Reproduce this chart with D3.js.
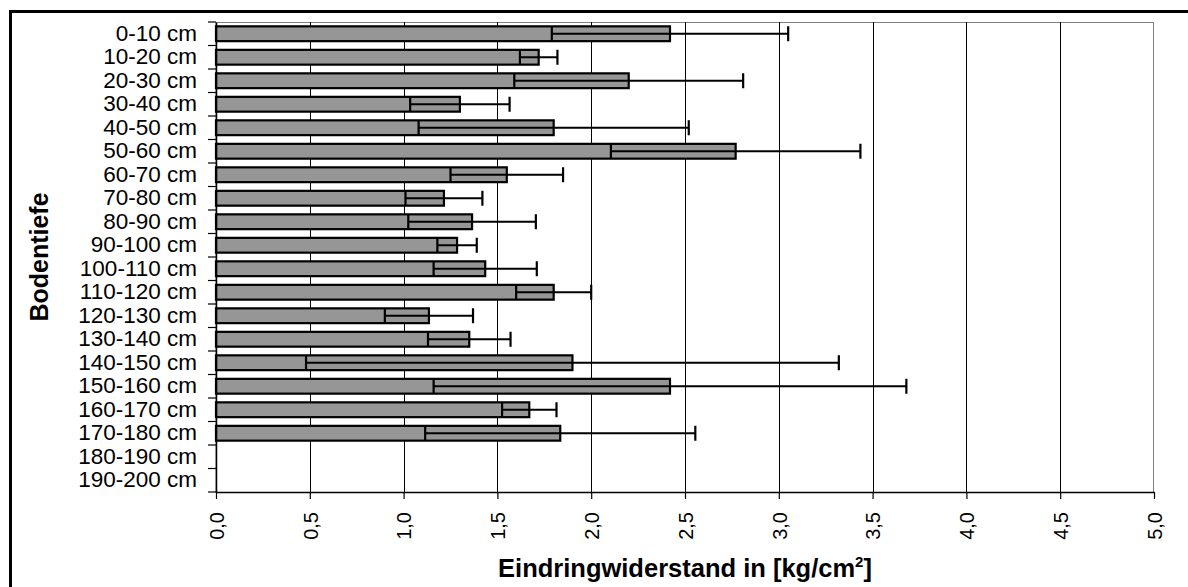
<!DOCTYPE html>
<html>
<head>
<meta charset="utf-8">
<script src="https://cdn.jsdelivr.net/npm/d3@7"></script>
<style>
  body { margin: 0; background: #fff; }
  svg { display: block; font-family: Arial, "Liberation Sans", sans-serif; }
</style>
</head>
<body>
<div id="chart"></div>
<script>
// Bodentiefe classes and penetration resistance (mean, standard deviation)
const categories = ["0-10 cm", "10-20 cm", "20-30 cm", "30-40 cm", "40-50 cm",
  "50-60 cm", "60-70 cm", "70-80 cm", "80-90 cm", "90-100 cm",
  "100-110 cm", "110-120 cm", "120-130 cm", "130-140 cm", "140-150 cm",
  "150-160 cm", "160-170 cm", "170-180 cm", "180-190 cm", "190-200 cm"];
const means = [2.42, 1.72, 2.20, 1.30, 1.80, 2.77, 1.55, 1.215, 1.365, 1.285,
  1.435, 1.80, 1.135, 1.35, 1.90, 2.42, 1.67, 1.835, null, null];
const sds = [0.63, 0.10, 0.61, 0.265, 0.72, 0.665, 0.30, 0.205, 0.34, 0.105,
  0.275, 0.20, 0.235, 0.22, 1.42, 1.26, 0.145, 0.72, null, null];
const xTicks = [0, 0.5, 1, 1.5, 2, 2.5, 3, 3.5, 4, 4.5, 5];

const W = 1188, H = 587;
const plot = {left: 216, right: 1154, top: 22, bottom: 492};

const data = categories.map((c, i) => ({cat: c, mean: means[i], sd: sds[i]}));

const de = d3.formatLocale({decimal: ",", thousands: ".", grouping: [3], currency: ["", " €"]});
const fmt = de.format(".1f");

const svg = d3.select("#chart").append("svg")
    .attr("width", W)
    .attr("height", H);

svg.append("rect").attr("width", W).attr("height", H).attr("fill", "#fff");

// outer frame (runs off the right and bottom edge)
svg.append("rect")
    .attr("x", 10.5).attr("y", 11.5)
    .attr("width", 1200).attr("height", 600)
    .attr("fill", "none").attr("stroke", "#000").attr("stroke-width", 3);

const x = d3.scaleLinear().domain([0, 5]).range([plot.left, plot.right]);
const y = d3.scaleBand().domain(categories)
    .range([plot.top, plot.bottom])
    .paddingInner(0.37).paddingOuter(0.185);

// plot area border
svg.append("rect")
    .attr("x", plot.left).attr("y", plot.top + 0.5)
    .attr("width", plot.right - plot.left - 0.5).attr("height", plot.bottom - plot.top)
    .attr("fill", "none").attr("stroke", "#808080").attr("stroke-width", 1);

// vertical gridlines
svg.append("g").selectAll("line")
    .data(xTicks.slice(1, -1))
    .join("line")
    .attr("x1", d => Math.round(x(d)) + 0.5).attr("x2", d => Math.round(x(d)) + 0.5)
    .attr("y1", plot.top).attr("y2", plot.bottom)
    .attr("stroke", "#000").attr("stroke-width", 1);

const rows = data.filter(d => d.mean != null);

// bars
svg.append("g").selectAll("rect")
    .data(rows)
    .join("rect")
    .attr("x", x(0))
    .attr("y", d => y(d.cat))
    .attr("width", d => x(d.mean) - x(0))
    .attr("height", y.bandwidth())
    .attr("fill", "#969696")
    .attr("stroke", "#000")
    .attr("stroke-width", 2.2);

// error bars
const err = svg.append("g").attr("stroke", "#000").attr("stroke-width", 2.2);
const cy = d => y(d.cat) + y.bandwidth() / 2;
err.selectAll("line.err")
    .data(rows)
    .join("line").attr("class", "err")
    .attr("x1", d => x(d.mean - d.sd)).attr("x2", d => x(d.mean + d.sd))
    .attr("y1", cy).attr("y2", cy);
err.selectAll("line.capl")
    .data(rows)
    .join("line").attr("class", "capl")
    .attr("x1", d => x(d.mean - d.sd)).attr("x2", d => x(d.mean - d.sd))
    .attr("y1", d => cy(d) - 7.5).attr("y2", d => cy(d) + 7.5);
err.selectAll("line.capr")
    .data(rows)
    .join("line").attr("class", "capr")
    .attr("x1", d => x(d.mean + d.sd)).attr("x2", d => x(d.mean + d.sd))
    .attr("y1", d => cy(d) - 7.5).attr("y2", d => cy(d) + 7.5);

// y axis: labels at band centres, ticks at band boundaries
const yAxis = svg.append("g")
    .attr("transform", `translate(${plot.left},0)`)
    .call(d3.axisLeft(y).tickSize(0).tickPadding(19));
yAxis.select(".domain").attr("stroke", "#000").attr("stroke-width", 1.5);
yAxis.selectAll("text")
    .attr("font-size", 22.5).attr("fill", "#000")
    .attr("font-family", "Arial, 'Liberation Sans', sans-serif");

svg.append("g").selectAll("line")
    .data(d3.range(categories.length + 1))
    .join("line")
    .attr("x1", plot.left - 8).attr("x2", plot.left)
    .attr("y1", i => plot.top + i * y.step()).attr("y2", i => plot.top + i * y.step())
    .attr("stroke", "#000").attr("stroke-width", 1.2);

// x axis
const xAxis = svg.append("g")
    .attr("transform", `translate(0,${plot.bottom})`)
    .call(d3.axisBottom(x).tickValues(xTicks).tickFormat(fmt).tickSize(7).tickSizeOuter(0));
xAxis.select(".domain").attr("stroke", "#000").attr("stroke-width", 1.5);
xAxis.selectAll(".tick line").attr("stroke", "#000").attr("stroke-width", 1.2);
xAxis.selectAll("text")
    .attr("font-size", 20).attr("fill", "#000")
    .attr("font-family", "Arial, 'Liberation Sans', sans-serif")
    .attr("transform", "rotate(-90)")
    .attr("text-anchor", "end")
    .attr("x", -20).attr("y", 0).attr("dy", "0.36em");

// axis titles
svg.append("text")
    .attr("transform", "translate(48,257) rotate(-90)")
    .attr("text-anchor", "middle")
    .attr("font-size", 25).attr("font-weight", "bold")
    .text("Bodentiefe");

const title = svg.append("text")
    .attr("x", (plot.left + plot.right) / 2).attr("y", 577)
    .attr("text-anchor", "middle")
    .attr("font-size", 25.5).attr("font-weight", "bold");
title.append("tspan").text("Eindringwiderstand in [kg/cm");
title.append("tspan").attr("font-size", 15).attr("dy", -10).text("2");
title.append("tspan").attr("dy", 10).text("]");
</script>
</body>
</html>
